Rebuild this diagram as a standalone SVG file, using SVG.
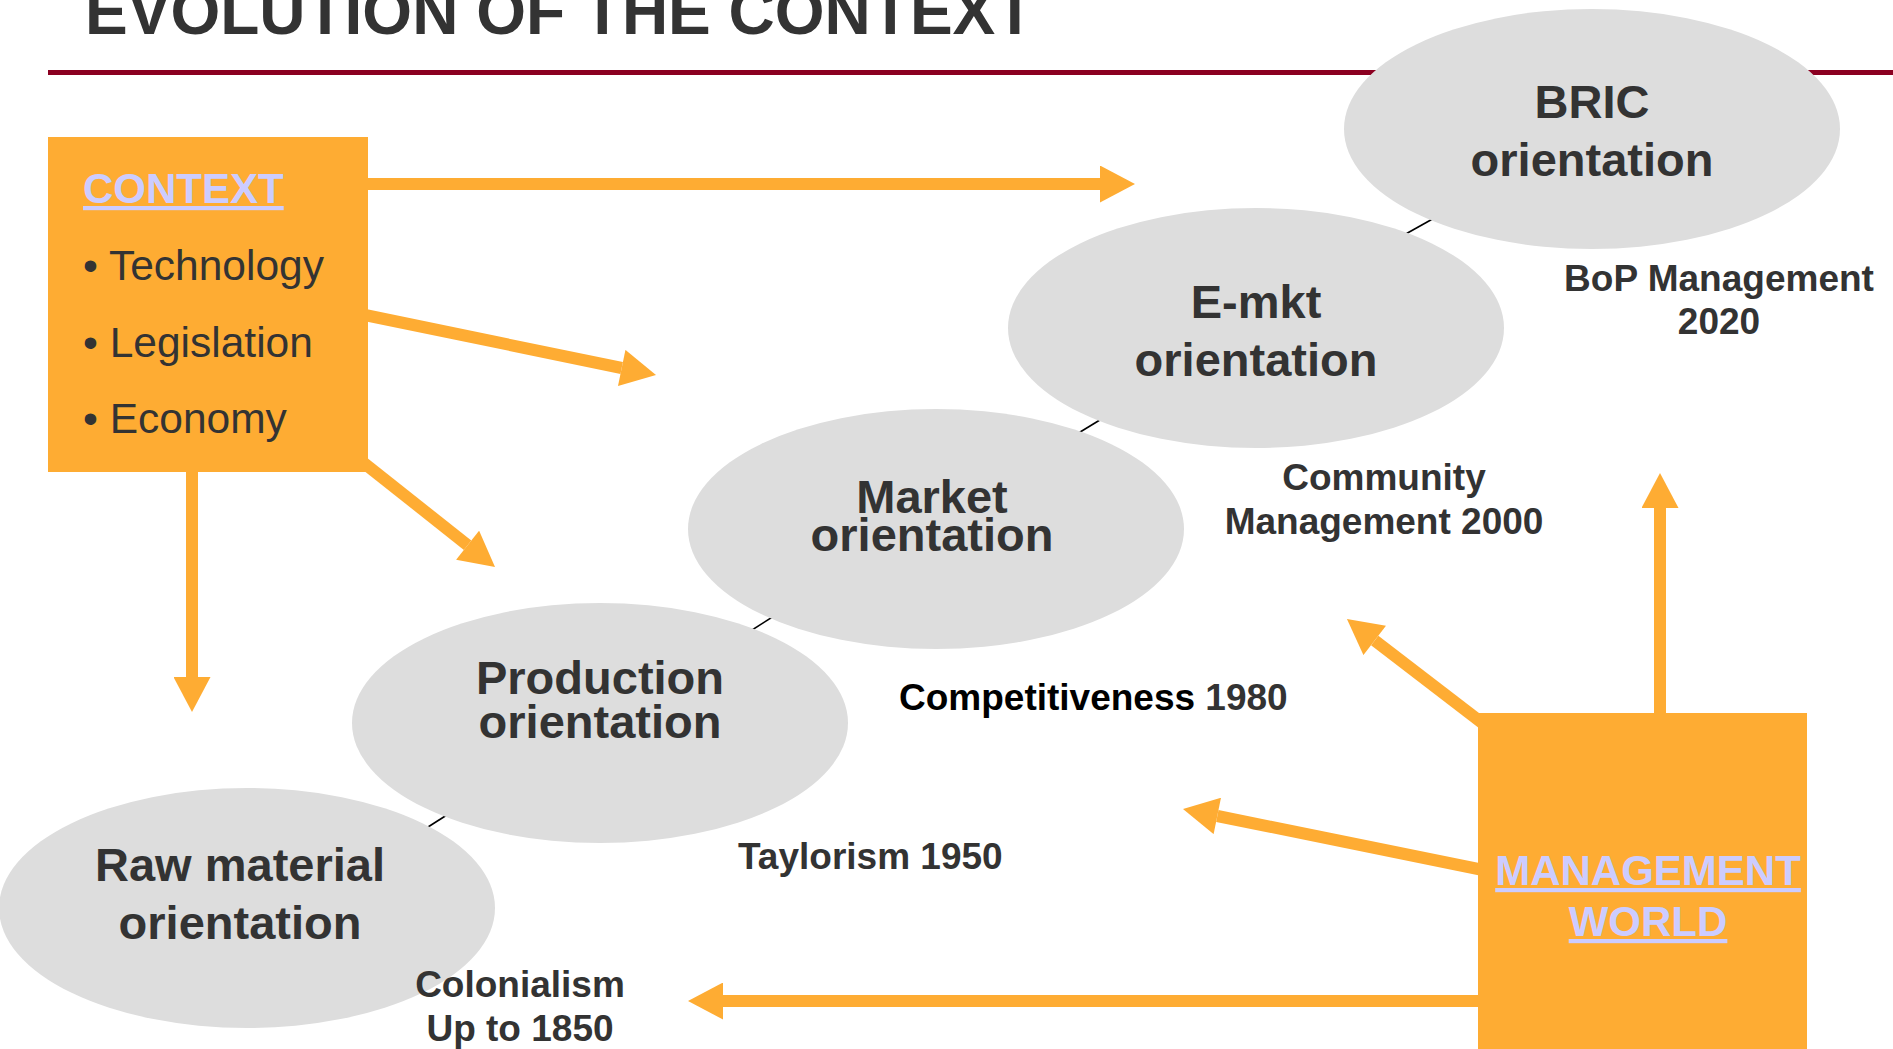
<svg xmlns="http://www.w3.org/2000/svg" width="1893" height="1049" viewBox="0 0 1893 1049">
  <style>
    text { font-family: "Liberation Sans", Arial, sans-serif; }
    .title { font-size: 64px; font-weight: bold; fill: #333333; }
    .box { fill: #FEAC33; }
    .head { font-size: 42px; font-weight: bold; fill: #CCCCFF; text-decoration: underline; }
    .bullet { font-size: 42.5px; fill: #333333; }
    .ell { fill: #DDDDDD; }
    .etext { font-size: 47px; font-weight: bold; fill: #333333; text-anchor: middle; }
    .label { font-size: 37px; font-weight: bold; fill: #333333; }
    .mid { text-anchor: middle; }
    .arrow { stroke: #FEAC33; stroke-width: 12; fill: none; marker-end: url(#ah); }
    .link { stroke: #000000; stroke-width: 1.6; }
  </style>
  <defs>
    <marker id="ah" markerUnits="userSpaceOnUse" markerWidth="36" markerHeight="37" viewBox="0 0 35 37" refX="0" refY="18.5" orient="auto">
      <path d="M0,0 L35,18.5 L0,37 Z" fill="#FEAC33"/>
    </marker>
  </defs>
  <rect width="1893" height="1049" fill="#FFFFFF"/>

  <g id="title">
    <text class="title" x="85" y="34">EVOLUTION OF THE CONTEXT</text>
    <rect x="48" y="70" width="1845" height="5" fill="#8B0021"/>
  </g>

  <g id="connectors">
    <line class="link" x1="1395" y1="240" x2="1445" y2="212"/>
    <line class="link" x1="1067" y1="440" x2="1113" y2="412"/>
    <line class="link" x1="741" y1="637" x2="785" y2="609"/>
    <line class="link" x1="417" y1="834" x2="461" y2="806"/>
  </g>

  <g id="node-raw">
    <ellipse class="ell" cx="247" cy="908" rx="248" ry="120"/>
    <text class="etext" x="240" y="881">Raw material</text>
    <text class="etext" x="240" y="939">orientation</text>
  </g>
  <g id="node-production">
    <ellipse class="ell" cx="600" cy="723" rx="248" ry="120"/>
    <text class="etext" x="600" y="694">Production</text>
    <text class="etext" x="600" y="738">orientation</text>
  </g>
  <g id="node-market">
    <ellipse class="ell" cx="936" cy="529" rx="248" ry="120"/>
    <text class="etext" x="932" y="513">Market</text>
    <text class="etext" x="932" y="551">orientation</text>
  </g>
  <g id="node-emkt">
    <ellipse class="ell" cx="1256" cy="328" rx="248" ry="120"/>
    <text class="etext" x="1256" y="318">E-mkt</text>
    <text class="etext" x="1256" y="376">orientation</text>
  </g>
  <g id="node-bric">
    <ellipse class="ell" cx="1592" cy="129" rx="248" ry="120"/>
    <text class="etext" x="1592" y="118">BRIC</text>
    <text class="etext" x="1592" y="176">orientation</text>
  </g>

  <g id="labels">
    <text class="label mid" x="1719" y="291">BoP Management</text>
    <text class="label mid" x="1719" y="334">2020</text>
    <text class="label mid" x="1384" y="490">Community</text>
    <text class="label mid" x="1384" y="534">Management 2000</text>
    <text class="label" x="899" y="710"><tspan fill="#000000">Competitiveness</tspan> 1980</text>
    <text class="label" x="738" y="869">Taylorism 1950</text>
    <text class="label mid" x="520" y="997">Colonialism</text>
    <text class="label mid" x="520" y="1041">Up to 1850</text>
  </g>

  <g id="arrows">
    <line class="arrow" x1="360" y1="184" x2="1100" y2="184"/>
    <line class="arrow" x1="360" y1="314" x2="621.7" y2="368"/>
    <line class="arrow" x1="355" y1="456" x2="467.6" y2="545.2"/>
    <line class="arrow" x1="192" y1="465" x2="192" y2="677"/>
    <line class="arrow" x1="1660" y1="720" x2="1660" y2="508"/>
    <line class="arrow" x1="1490" y1="729" x2="1374.7" y2="640.4"/>
    <line class="arrow" x1="1488" y1="871" x2="1217.3" y2="816"/>
    <line class="arrow" x1="1488" y1="1001" x2="723" y2="1001"/>
  </g>

  <g id="node-context">
    <rect class="box" x="48" y="137" width="320" height="335"/>
    <text class="head" x="83" y="203">CONTEXT</text>
    <text class="bullet" x="83" y="280">• Technology</text>
    <text class="bullet" x="83" y="357">• Legislation</text>
    <text class="bullet" x="83" y="433">• Economy</text>
  </g>

  <g id="node-management">
    <rect class="box" x="1478" y="713" width="329" height="336"/>
    <text class="head mid" x="1648" y="885">MANAGEMENT</text>
    <text class="head mid" x="1648" y="936">WORLD</text>
  </g>
</svg>
